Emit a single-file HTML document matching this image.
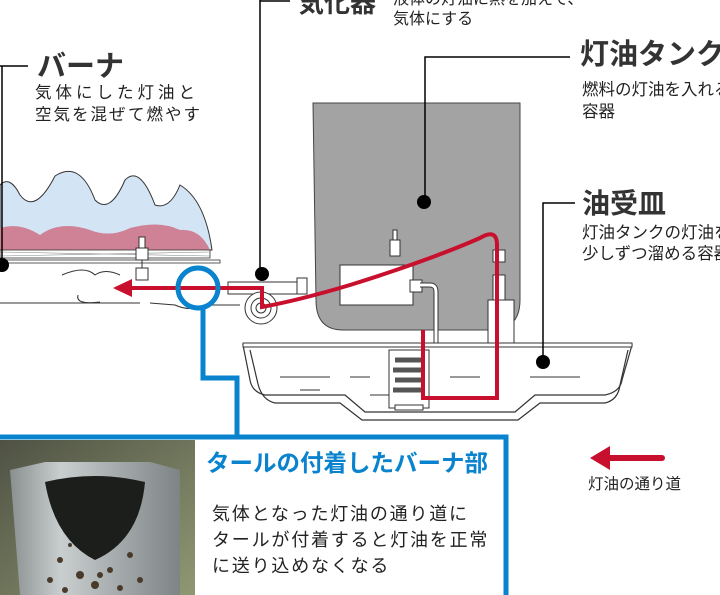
<!DOCTYPE html>
<html><head><meta charset="utf-8"><style>
body{margin:0;background:#fff;width:720px;height:595px;overflow:hidden}
svg{display:block}
text{font-family:"Liberation Sans","Noto Sans CJK JP",sans-serif}
</style></head><body>
<svg width="720" height="595" viewBox="0 0 720 595" xmlns="http://www.w3.org/2000/svg">
<path d="M313 103 H520 V300 Q520 330 490 330 H343 Q316 330 316 300 Z" fill="#a3a3a3" stroke="#444" stroke-width="1"/>
<path d="M0 185 Q10 175 20 195 Q35 215 55 176 Q80 160 95 200 Q110 215 125 180 Q140 165 155 205 Q170 210 180 185 Q205 200 212 250 H0 Z" fill="#d3e5f5" stroke="#333" stroke-width="1"/>
<path d="M0 228 Q20 222 40 235 Q60 220 90 230 Q110 238 130 228 Q160 220 180 230 Q200 228 210 250 H0 Z" fill="#cf8296"/>
<rect x="0" y="250" width="210" height="8" fill="#fff" stroke="#333" stroke-width="0.8"/>
<path d="M0 252 L210 256 M0 256 L210 252" stroke="#888" stroke-width="0.6"/>
<rect x="0" y="260" width="220" height="3" fill="#fff" stroke="#333" stroke-width="0.8"/>
<path d="M0 303 H140 M150 303 L175 305 Q190 312 205 305 H240" stroke="#333" fill="none"/>
<path d="M62 275 Q85 265 95 275 Q105 268 120 275 M78 295 Q75 305 100 302" stroke="#333" fill="none"/>
<rect x="139" y="237" width="6" height="12" fill="#fff" stroke="#333"/>
<rect x="136" y="248" width="12" height="12" fill="#fff" stroke="#333"/>
<rect x="136" y="268" width="12" height="12" fill="#fff" stroke="#333"/>
<line x1="142" y1="260" x2="142" y2="268" stroke="#333"/>
<rect x="228" y="282" width="70" height="12" fill="#fff" stroke="#333"/>
<rect x="297" y="278" width="10" height="16" fill="#fff" stroke="#333"/>
<rect x="340" y="265" width="73" height="40" fill="#fff" stroke="#333"/>
<rect x="410" y="280" width="12" height="12" fill="#fff" stroke="#333"/>
<path d="M420 285 H430 Q436 285 436 292 V345" stroke="#333" stroke-width="5" fill="none"/>
<path d="M420 285 H430 Q436 285 436 292 V345" stroke="#fff" stroke-width="3" fill="none"/>
<rect x="390" y="240" width="10" height="16" fill="#fff" stroke="#333"/>
<rect x="393" y="230" width="4" height="10" fill="#fff" stroke="#333"/>
<circle cx="261" cy="308" r="16" fill="#fff" stroke="#333"/>
<circle cx="261" cy="308" r="10" fill="#fff" stroke="#333"/>
<circle cx="261" cy="308" r="5" fill="#fff" stroke="#333"/>
<rect x="488" y="300" width="26" height="45" fill="#fff" stroke="#333"/>
<rect x="493" y="250" width="12" height="12" fill="#fff" stroke="#333"/>
<rect x="493" y="275" width="12" height="25" fill="#fff" stroke="#333"/>
<rect x="493" y="345" width="12" height="60" rx="5" fill="#fff" stroke="#333"/>
<path d="M243 345 H632 L622 380 Q620 392 605 395 H535 L515 412 H365 L345 395 H265 Q252 392 250 380 Z" fill="#fff" stroke="#333" stroke-width="1.2"/>
<path d="M250 350 L258 384 Q262 400 275 403 H340 L362 420 H518 L540 403 H605 Q618 400 620 385 L628 350" fill="none" stroke="#333" stroke-width="1.2"/>
<rect x="243" y="343" width="389" height="4" fill="#fff" stroke="#333"/>
<path d="M280 377 H330 M350 377 H370 M450 377 H480 M530 377 H580 M300 390 H320 M370 395 H400" stroke="#333"/>
<rect x="389" y="350" width="40" height="58" fill="#fff" stroke="#333"/>
<path d="M395 360 h28 M393 370 h32 M395 380 h28 M393 390 h32" stroke="#555" stroke-width="5"/>
<rect x="395" y="405" width="28" height="5" fill="#fff" stroke="#333"/>
<path d="M130 288 H262 V307 Q300 300 350 285 Q430 260 480 238 Q497 228 497 245 V398 H423 V330" fill="none" stroke="#c8102e" stroke-width="4"/>
<path d="M113 288 L132 279 V297 Z" fill="#c8102e"/>
<path d="M0 66 H28 M2 66 V265" stroke="#000" stroke-width="1.5" fill="none"/>
<circle cx="2" cy="265" r="7" fill="#000"/>
<path d="M260 0 V274 M260 1 H290" stroke="#000" stroke-width="1.5" fill="none"/>
<circle cx="262" cy="274" r="7" fill="#000"/>
<path d="M570 57 H425 V202" stroke="#000" stroke-width="1.5" fill="none"/>
<circle cx="424" cy="202" r="7" fill="#000"/>
<path d="M575 203 H543 V362" stroke="#000" stroke-width="1.5" fill="none"/>
<circle cx="543" cy="362" r="7" fill="#000"/>
<text x="37" y="76" font-size="29" font-weight="bold" fill="#333">バーナ</text>
<text x="35" y="98" font-size="16.5" fill="#222" letter-spacing="4">気体にした灯油と</text>
<text x="35" y="120" font-size="16.5" fill="#222" letter-spacing="2">空気を混ぜて燃やす</text>
<text x="298" y="12" font-size="26" font-weight="bold" fill="#333">気化器</text>
<text x="393" y="4" font-size="16" fill="#222">液体の灯油に熱を加えて、</text>
<text x="393" y="24" font-size="16" fill="#222">気体にする</text>
<text x="580" y="64" font-size="29" font-weight="bold" fill="#333">灯油タンク</text>
<text x="582" y="95" font-size="16.5" fill="#222">燃料の灯油を入れる</text>
<text x="582" y="117" font-size="16.5" fill="#222">容器</text>
<text x="582" y="213" font-size="28" font-weight="bold" fill="#333">油受皿</text>
<text x="582" y="238" font-size="16.5" fill="#222">灯油タンクの灯油を</text>
<text x="582" y="259" font-size="16.5" fill="#222">少しずつ溜める容器</text>
<path d="M608 458 H662" stroke="#c8102e" stroke-width="6" stroke-linecap="round"/>
<path d="M590 458 L610 446 V470 Z" fill="#c8102e"/>
<text x="588" y="489" font-size="15.5" fill="#222">灯油の通り道</text>
<circle cx="198" cy="288" r="20" fill="none" stroke="#0a83cf" stroke-width="5"/>
<path d="M203 307 V378 H237 V437" stroke="#0a83cf" stroke-width="5" fill="none"/>
<path d="M0 437 H506 V595" stroke="#0a83cf" stroke-width="5" fill="none"/>
<defs>
<linearGradient id="bg" x1="0" y1="0" x2="1" y2="1"><stop offset="0" stop-color="#4f5244"/><stop offset="1" stop-color="#8f9872"/></linearGradient>
<linearGradient id="cyl" x1="0" x2="1"><stop offset="0" stop-color="#8a9090"/><stop offset="0.3" stop-color="#c9cecf"/><stop offset="1" stop-color="#7d8485"/></linearGradient>
</defs>
<rect x="0" y="440" width="195" height="155" fill="url(#bg)"/>
<path d="M10 470 L45 462 H150 L180 470 V595 H20 Z" fill="url(#cyl)"/>
<path d="M45 482 Q95 470 145 482 Q140 540 95 560 Q55 540 45 482 Z" fill="#1c1e1c"/>
<g fill="#4a3a2a"><circle cx="60" cy="560" r="3"/><circle cx="80" cy="575" r="4"/><circle cx="110" cy="570" r="3"/><circle cx="130" cy="555" r="3"/><circle cx="95" cy="585" r="4"/><circle cx="50" cy="580" r="3"/><circle cx="140" cy="580" r="3"/><circle cx="70" cy="545" r="2"/><circle cx="100" cy="575" r="3"/><circle cx="120" cy="588" r="3"/><circle cx="65" cy="590" r="3"/></g>
<text x="206" y="471" font-size="23.5" font-weight="bold" fill="#0a83cf">タールの付着したバーナ部</text>
<text x="212" y="520" font-size="18" fill="#222" letter-spacing="1.8">気体となった灯油の通り道に</text>
<text x="212" y="546" font-size="18" fill="#222" letter-spacing="1.8">タールが付着すると灯油を正常</text>
<text x="212" y="572" font-size="18" fill="#222" letter-spacing="1.8">に送り込めなくなる</text>
</svg>
</body></html>
